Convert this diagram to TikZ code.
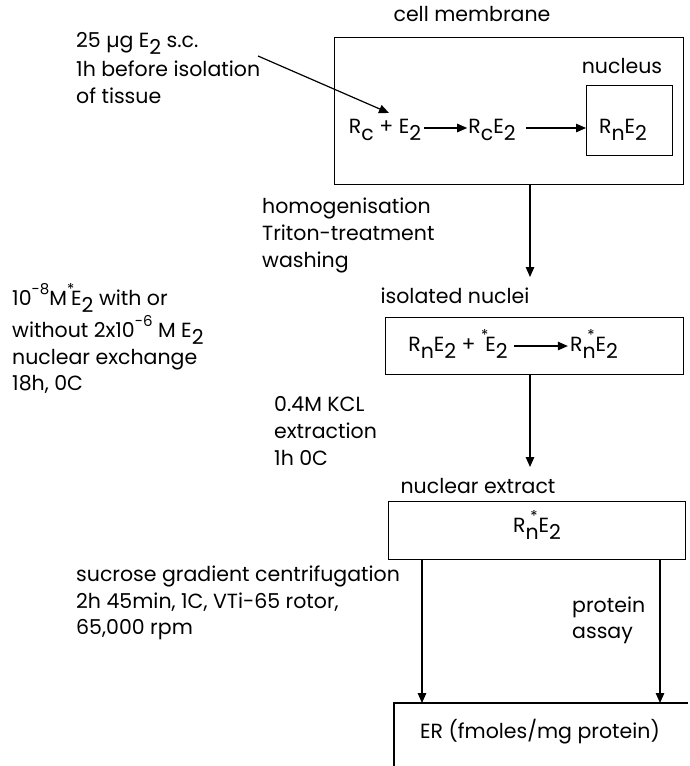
\documentclass[tikz,border=0pt]{standalone}
\usepackage{fontspec}
\setmainfont{Poppins}
\usetikzlibrary{arrows.meta}
\newcommand\lowr[1]{\raisebox{-0.35em}{#1}}
\newcommand\upr[1]{\raisebox{0.5em}{\fontsize{15}{15}\selectfont #1}}
\tikzset{
  txt/.style={font=\fontsize{20.5}{27}\selectfont, inner sep=0pt, anchor=base west},
  lbl/.style={font=\fontsize{20.5}{27}\selectfont, inner sep=0pt, anchor=base},
  box/.style={draw, line width=1.2pt, inner sep=0pt, anchor=north west},
  arr/.style={line width=1.2pt, -{Triangle[length=10pt,width=8.5pt]}},
  ln/.style={line width=1.2pt}
}
\begin{document}
\begin{tikzpicture}[x=1pt,y=-1pt]
\useasboundingbox (0,0) rectangle (689,766);
% boxes
\node[box, minimum width=349pt, minimum height=147pt] (cell) at (334,37) {};
\node[box, minimum width=86pt, minimum height=70pt] (nuc) at (586,85) {};
\node[box, minimum width=298pt, minimum height=57pt] (isol) at (385,317) {};
\node[box, minimum width=297pt, minimum height=58pt] (ext) at (388,501) {};
% labels above boxes
\node[lbl] (celllbl) at (472,21) {cell membrane};
\node[lbl] (nuclbl) at (622,73) {nucleus};
\node[lbl] (isollbl) at (455,303) {isolated nuclei};
\node[lbl] (extlbl) at (478,493) {nuclear extract};
% reaction in cell
\node[lbl] (rc) at (385,133) {R\lowr{c} + E\lowr{2}};
\node[lbl] (rce) at (492,133) {R\lowr{c}E\lowr{2}};
\node[lbl] (rne) at (623,133) {R\lowr{n}E\lowr{2}};
\draw[arr] ([xshift=3pt,yshift=5pt]rc.base east) -- ([xshift=-1pt,yshift=5pt]rce.base west);
\draw[arr] ([xshift=10pt,yshift=5pt]rce.base east) -- ([yshift=5pt]rce.base east -| nuc.west);
% dose text
\node[txt] (dose1) at (76,47) {25 µg E\lowr{2} s.c.};
\node[txt] (dose2) at (76,76) {1h before isolation};
\node[txt] (dose3) at (76,103) {of tissue};
\coordinate (dstart) at (258,56);
\coordinate (plus) at (389,113);
\draw[arr] (dstart) -- (plus);
% homogenisation
\node[txt] (hom1) at (262,213) {homogenisation};
\node[txt] (hom2) at (262,240) {Triton-treatment};
\node[txt] (hom3) at (262,267) {washing};
\coordinate (a1) at (530,277);
\draw[arr] (cell.south -| a1) -- (a1);
% exchange text
\node[txt] (ex1) at (12,305) {10\upr{-8}M\upr{*}\hspace{-0.15em}E\lowr{2} with or};
\node[txt] (ex2) at (12,337) {without 2x10\upr{-6} M E\lowr{2}};
\node[txt] (ex3) at (12,364) {nuclear exchange};
\node[txt] (ex4) at (12,390) {18h, 0C};
% isolated nuclei reaction
\node[lbl] (rn2) at (458,351) {R\lowr{n}E\lowr{2} + \upr{*}\hspace{-0.15em}E\lowr{2}};
\node[lbl] (rns) at (594,351) {R\lowr{n}\llap{\upr{*}\hspace{0.05em}}E\lowr{2}};
\draw[arr] ([xshift=6pt,yshift=5pt]rn2.base east) -- ([xshift=-2pt,yshift=5pt]rns.base west);
% KCL
\node[txt] (kcl1) at (274,411) {0.4M KCL};
\node[txt] (kcl2) at (274,438) {extraction};
\node[txt] (kcl3) at (274,465) {1h 0C};
\coordinate (a2) at (530,467);
\draw[arr] (isol.south -| a2) -- (a2);
% extract
\node[lbl] (rns2) at (537,532) {R\lowr{n}\llap{\upr{*}\hspace{0.05em}}E\lowr{2}};
% sucrose
\node[txt] (suc1) at (76,581) {sucrose gradient centrifugation};
\node[txt] (suc2) at (76,608) {2h 45min, 1C, VTi-65 rotor,};
\node[txt] (suc3) at (76,634) {65,000 rpm};
\node[txt] (prot1) at (572,612) {protein};
\node[txt] (prot2) at (572,638) {assay};
% ER
\draw[ln] (394,767) -- (394,703) -- (688,703);
\node[lbl] (er) at (540,738) {ER (fmoles/mg protein)};
\coordinate (er1) at (422,703);
\coordinate (er2) at (660,703);
\draw[arr] (ext.south -| er1) -- (er1);
\draw[arr] (ext.south -| er2) -- (er2);
\end{tikzpicture}
\end{document}
